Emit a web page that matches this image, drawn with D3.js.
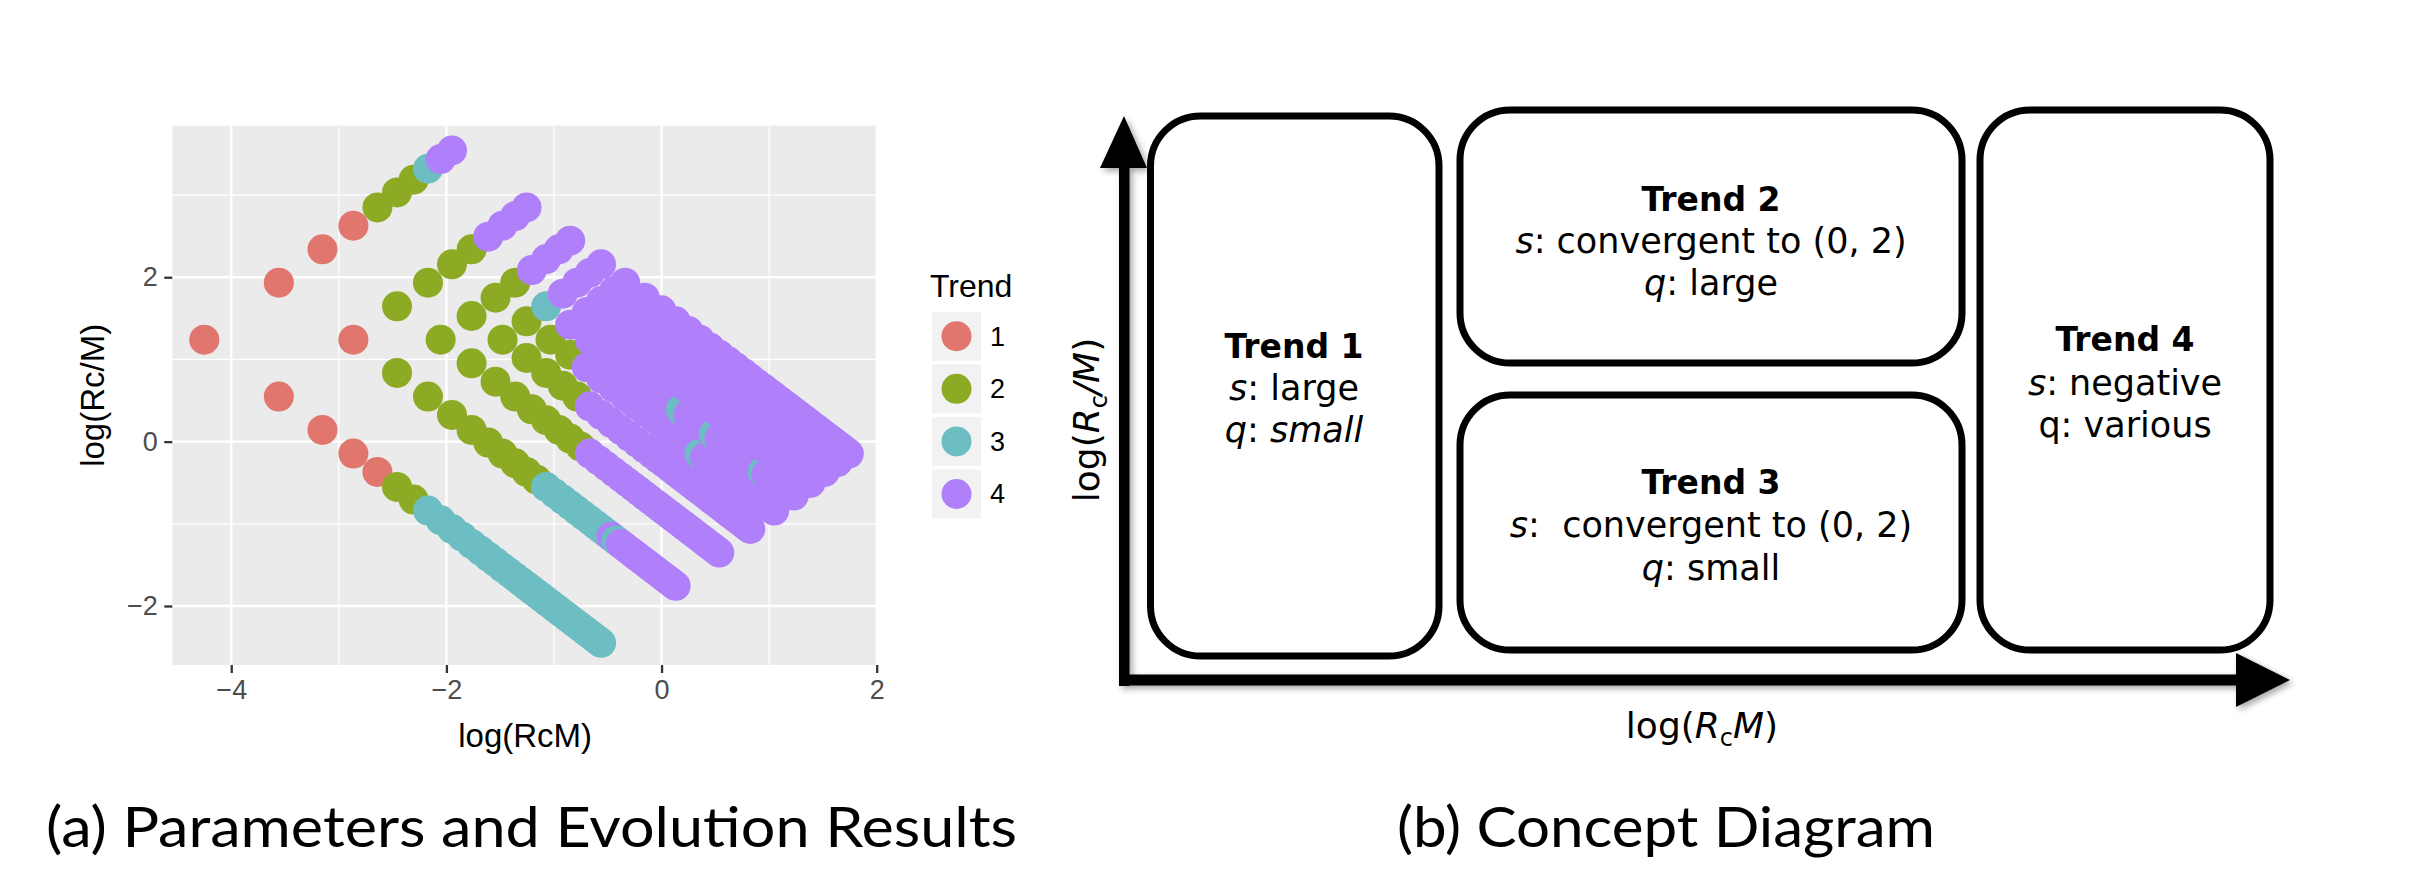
<!DOCTYPE html>
<html><head><meta charset="utf-8">
<script src="https://cdn.jsdelivr.net/npm/d3@7"></script>
<style>body{margin:0;background:#fff} svg{display:block}</style>
</head><body>
<svg id="c" width="2412" height="891" xmlns="http://www.w3.org/2000/svg"></svg>
<script>
// ---------------- DATA ----------------
// Parameter grid (Rc and M values), read off the diagonal lattice of the scatter
const rcValues = [0.222, 0.444, 0.666, 0.888, 1.110, 1.332, 1.554, 1.776, 1.998, 2.220];
const mValues = [0.0642, 0.1284, 0.1926, 0.2568, 0.3210, 0.3852, 0.4494, 0.5136, 0.5778, 0.6420,
                 0.7062, 0.7704, 0.8346, 0.8988, 0.9630, 1.0272, 1.0914, 1.1556, 1.2198, 1.2840,
                 1.3482, 1.4124, 1.4766, 1.5408, 1.6050, 1.6692, 1.7334, 1.7976, 1.8618, 1.9260,
                 1.9902, 2.0544, 2.1186, 2.1828, 2.2470, 2.3112, 2.3754, 2.4396, 2.5038, 2.5680];
// Trend class of each (Rc, M) cell: one row per Rc value, one character per M value
const trendRows = [
  "1111122333 3333333333 3333333333 3333333333",
  "1122222222 2333333333 3434444444 4444444444",
  "1222222222 2444444444 4444444444 4444444444",
  "1222222244 4444444444 4444444444 4444444444",
  "2222224444 4444444443 4444444444 4444444444",
  "2223444444 4443444434 4444444443 4444444444",
  "2444444444 4444444444 4444444444 4444444444",
  "3444444444 4444444444 4444444444 4444444444",
  "4444444444 4444444444 4444444444 4444444444",
  "4444444444 4444444444 4444444444 4444444444"
];
const trendLabels = ["1", "2", "3", "4"];
const trendColors = ["#E0766D", "#8DAA24", "#6CBEC3", "#B07FFA"];
const xTicks = [-4, -2, 0, 2];
const yTicks = [-2, 0, 2];
const xMinor = [-3, -1, 1];
const yMinor = [-1, 1, 3];

// Concept diagram content
const conceptBoxes = ["Trend 1", "Trend 2", "Trend 3", "Trend 4"];
const conceptLines = [
  [[["s", true], [": large", false]], [["q", true], [": ", false], ["small", true]]],
  [[["s", true], [": convergent to (0, 2)", false]], [["q", true], [": large", false]]],
  [[["s", true], [":\u00a0 convergent to (0, 2)", false]], [["q", true], [": small", false]]],
  [[["s", true], [": negative", false]], [["q: various", false]]]
];

// ---------------- CHART (a) ----------------
const svg = d3.select("#c");
const FONT = "'Liberation Sans', Arial, sans-serif";
const X = d3.scaleLinear().domain([-4.548, 2.012]).range([172.3, 878]);
const Y = d3.scaleLinear().domain([-2.718, 3.844]).range([665, 125.7]);
const color = d3.scaleOrdinal().domain(trendLabels).range(trendColors);

const a = svg.append("g");
a.append("rect").attr("x", X.range()[0]).attr("y", Y.range()[1])
  .attr("width", X.range()[1] - X.range()[0]).attr("height", Y.range()[0] - Y.range()[1])
  .attr("fill", "#EBEBEB");
// grid
a.selectAll(".gxm").data(xMinor).join("line").attr("x1", d => X(d)).attr("x2", d => X(d))
  .attr("y1", Y.range()[1]).attr("y2", Y.range()[0]).attr("stroke", "#fff").attr("stroke-width", 1.2);
a.selectAll(".gym").data(yMinor).join("line").attr("y1", d => Y(d)).attr("y2", d => Y(d))
  .attr("x1", X.range()[0]).attr("x2", X.range()[1]).attr("stroke", "#fff").attr("stroke-width", 1.2);
a.selectAll(".gx").data(xTicks).join("line").attr("x1", d => X(d)).attr("x2", d => X(d))
  .attr("y1", Y.range()[1]).attr("y2", Y.range()[0]).attr("stroke", "#fff").attr("stroke-width", 2.3);
a.selectAll(".gy").data(yTicks).join("line").attr("y1", d => Y(d)).attr("y2", d => Y(d))
  .attr("x1", X.range()[0]).attr("x2", X.range()[1]).attr("stroke", "#fff").attr("stroke-width", 2.3);

// points
const pts = [];
trendRows.forEach((row, i) => {
  const r = row.replace(/ /g, "");
  for (let j = 0; j < r.length; j++) {
    pts.push({ x: Math.log(rcValues[i] * mValues[j]), y: Math.log(rcValues[i] / mValues[j]), t: r[j] });
  }
});
a.append("g").selectAll("circle").data(pts).join("circle")
  .attr("cx", d => X(d.x)).attr("cy", d => Y(d.y)).attr("r", 15)
  .attr("fill", d => color(d.t));

// axes
function styleAxis(g) {
  g.select(".domain").remove();
  g.selectAll(".tick line").attr("stroke", "#333").attr("stroke-width", 2.3);
  g.selectAll(".tick text").attr("fill", "#4D4D4D").style("font-family", FONT).style("font-size", "27px");
}
a.append("g").attr("transform", `translate(0,${Y.range()[0]})`)
  .call(d3.axisBottom(X).tickValues(xTicks).tickSize(8).tickPadding(6.5).tickFormat(d3.format("d")))
  .call(styleAxis);
a.append("g").attr("transform", `translate(${X.range()[0]},0)`)
  .call(d3.axisLeft(Y).tickValues(yTicks).tickSize(8).tickPadding(6.5).tickFormat(d3.format("d")))
  .call(styleAxis);
a.append("text").attr("x", (X.range()[0] + X.range()[1]) / 2).attr("y", 747)
  .attr("text-anchor", "middle").style("font-family", FONT).style("font-size", "33px").text("log(RcM)");
a.append("text").attr("transform", `translate(104,${(Y.range()[0] + Y.range()[1]) / 2}) rotate(-90)`)
  .attr("text-anchor", "middle").style("font-family", FONT).style("font-size", "33px").text("log(Rc/M)");

// legend
const leg = a.append("g").attr("transform", "translate(930,0)");
leg.append("text").attr("x", 0).attr("y", 297).style("font-family", FONT).style("font-size", "32px").text("Trend");
const li = leg.selectAll(".li").data(trendLabels).join("g")
  .attr("transform", (d, k) => `translate(2,${311.7 + k * 52.6})`);
li.append("rect").attr("width", 49).attr("height", 49).attr("fill", "#F2F2F2");
li.append("circle").attr("cx", 24.5).attr("cy", 24.5).attr("r", 15).attr("fill", d => color(d));
li.append("text").attr("x", 58).attr("y", 24.5).attr("dy", "0.35em")
  .style("font-family", FONT).style("font-size", "27px").text(d => d);

// caption (a)
svg.append("text").attr("x", 46).attr("y", 847).attr("textLength", 971).attr("lengthAdjust", "spacingAndGlyphs")
  .style("font-family", "Lato, 'Open Sans', sans-serif").style("font-size", "57px")
  .text("(a) Parameters and Evolution Results");

// ---------------- DIAGRAM (b) ----------------
const DF = "'DejaVu Sans', Verdana, sans-serif";
const defs = svg.append("defs");
const f = defs.append("filter").attr("id", "sh").attr("x", "-20%").attr("y", "-20%").attr("width", "140%").attr("height", "140%");
f.append("feDropShadow").attr("dx", 3).attr("dy", 3).attr("stdDeviation", 3).attr("flood-color", "#000").attr("flood-opacity", 0.35);

const b = svg.append("g");
// arrows
const arr = b.append("g").attr("filter", "url(#sh)");
arr.append("rect").attr("x", 1119).attr("y", 166).attr("width", 10.5).attr("height", 520);
arr.append("path").attr("d", "M1100,168 L1147,168 L1124,116 Z");
arr.append("rect").attr("x", 1119).attr("y", 674.5).attr("width", 1119).attr("height", 11);
arr.append("path").attr("d", "M2236,653 L2236,707 L2290,680 Z");

// boxes
const boxGeom = [
  { x0: 1150.5, y0: 116, x1: 1439, y1: 656, cx: 1294, base: [358, 400, 442] },
  { x0: 1460, y0: 110, x1: 1962, y1: 363, cx: 1711, base: [211, 253, 295] },
  { x0: 1460, y0: 395, x1: 1962, y1: 650, cx: 1711, base: [494, 537, 580] },
  { x0: 1980, y0: 110, x1: 2270, y1: 650, cx: 2125, base: [351, 395, 437] }
];
conceptBoxes.forEach((title, k) => {
  const g = boxGeom[k];
  b.append("rect").attr("x", g.x0).attr("y", g.y0).attr("width", g.x1 - g.x0).attr("height", g.y1 - g.y0)
    .attr("rx", 50).attr("ry", 50).attr("fill", "#fff").attr("stroke", "#000").attr("stroke-width", 7);
  b.append("text").attr("x", g.cx).attr("y", g.base[0]).attr("text-anchor", "middle")
    .style("font-family", DF).style("font-weight", "bold").style("font-size", "33px").text(title);
  conceptLines[k].forEach((parts, li2) => {
    const t = b.append("text").attr("x", g.cx).attr("y", g.base[li2 + 1]).attr("text-anchor", "middle")
      .style("font-family", DF).style("font-size", "35px").style("white-space", "pre");
    parts.forEach(p => t.append("tspan").style("font-style", p[1] ? "italic" : "normal").text(p[0]));
  });
});

// diagram axis labels
const xl = b.append("text").attr("x", 1702).attr("y", 738).attr("text-anchor", "middle")
  .style("font-family", DF).style("font-size", "36px");
xl.append("tspan").text("log(");
xl.append("tspan").style("font-style", "italic").text("R");
xl.append("tspan").attr("dy", 8).style("font-size", "24px").text("c");
xl.append("tspan").attr("dy", -8).style("font-style", "italic").text("M");
xl.append("tspan").text(")");

const yl = b.append("text").attr("transform", "translate(1099,420) rotate(-90)").attr("text-anchor", "middle")
  .style("font-family", DF).style("font-size", "36px");
yl.append("tspan").text("log(");
yl.append("tspan").style("font-style", "italic").text("R");
yl.append("tspan").attr("dy", 8).style("font-size", "24px").text("c");
yl.append("tspan").attr("dy", -8).style("font-style", "italic").text("/M");
yl.append("tspan").text(")");

// caption (b)
svg.append("text").attr("x", 1397).attr("y", 847).attr("textLength", 538).attr("lengthAdjust", "spacingAndGlyphs")
  .style("font-family", "Lato, 'Open Sans', sans-serif").style("font-size", "57px")
  .text("(b) Concept Diagram");
</script>
</body></html>
